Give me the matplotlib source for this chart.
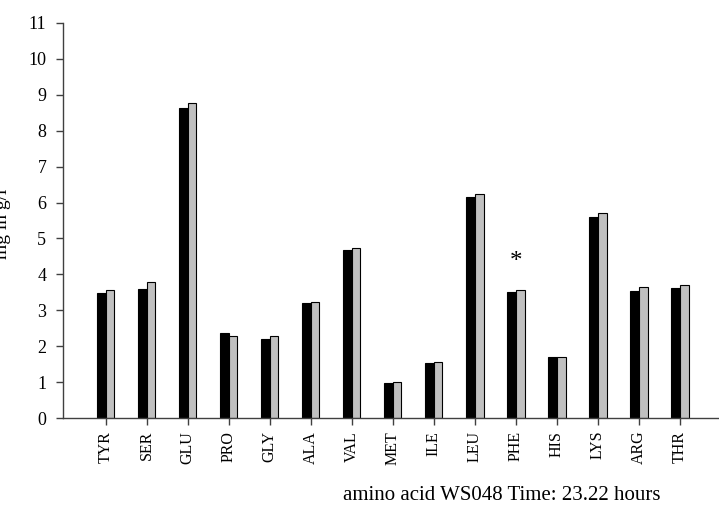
import matplotlib
matplotlib.use("Agg")
import matplotlib.pyplot as plt
import numpy as np

categories = ["TYR", "SER", "GLU", "PRO", "GLY", "ALA", "VAL", "MET",
              "ILE", "LEU", "PHE", "HIS", "LYS", "ARG", "THR"]
series_black = [3.48, 3.60, 8.62, 2.38, 2.21, 3.20, 4.68, 0.98,
                1.53, 6.15, 3.51, 1.70, 5.59, 3.54, 3.63]
series_gray = [3.57, 3.78, 8.76, 2.29, 2.29, 3.24, 4.73, 1.00,
               1.57, 6.24, 3.57, 1.70, 5.70, 3.66, 3.71]
yticks = list(range(0, 12))
star_category = "PHE"
star_value = 4.35
xlabel = "amino acid WS048 Time: 23.22 hours"
ylabel = "mg in g/l"

plt.rcParams['font.family'] = ['Liberation Serif', 'DejaVu Serif']

fig = plt.figure(figsize=(7.19, 5.15), dpi=100)
ax = fig.add_axes([63/719, 1 - 418.3/515, 1 - 63/719, (418.3 - 22.7)/515])

x = np.arange(len(categories))
w = 0.21
ax.bar(x, series_black, width=-w, align='edge', color='black',
       edgecolor='black', linewidth=0.8)
ax.bar(x, series_gray, width=w, align='edge', color='#c0c0c0',
       edgecolor='black', linewidth=0.8)

ax.set_xlim(-1.04, 14.95)
ax.set_ylim(0, 11)
ax.set_yticks(yticks)
ax.set_yticklabels([str(t) for t in yticks], fontsize=13)
ax.set_xticks(x)
ax.set_xticklabels(categories, rotation=90, fontsize=11.5)

for s in ['top', 'right']:
    ax.spines[s].set_visible(False)
for s in ['left', 'bottom']:
    ax.spines[s].set_color('#404040')
    ax.spines[s].set_linewidth(1.0)
ax.tick_params(axis='both', direction='out', length=5, color='#404040', width=1.0)
ax.tick_params(axis='x', pad=4)
ax.tick_params(axis='y', pad=7)

ax.text(categories.index(star_category), star_value, "*", ha='center',
        va='center', fontsize=18)

fig.text(502/719, 1 - 495/515, xlabel, ha='center', va='center', fontsize=15)
fig.text(3/719, 1 - 224/515, ylabel, rotation=90, ha='center', va='center', fontsize=14)

fig.savefig("out.png", dpi=100)
